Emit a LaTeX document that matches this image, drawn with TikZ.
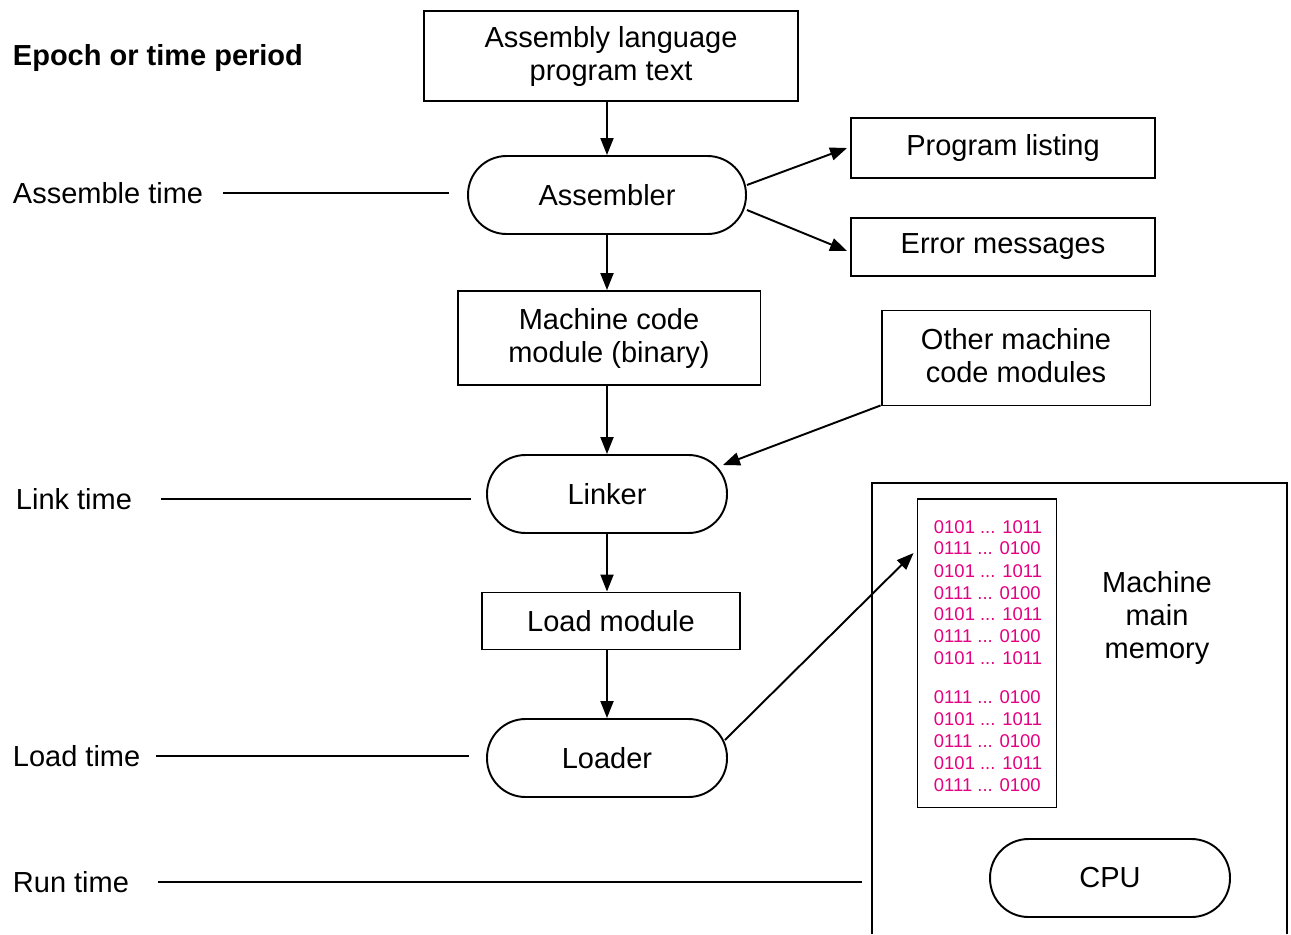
\documentclass[tikz,border=0pt]{standalone}
\usepackage{fontspec}
\setmainfont{Liberation Sans}
\usetikzlibrary{arrows.meta}
\definecolor{bitpink}{RGB}{228,0,128}

\begin{document}
\begin{tikzpicture}[x=0.02cm, y=-0.02cm, line width=1.1pt, >={Triangle[length=3.4mm,width=2.6mm]},
	every node/.style={font=\fontsize{16.5}{18.5}\selectfont},
	block/.style={draw, align=center, inner sep=0pt},
	pill/.style={draw, rounded corners=0.77cm, minimum width=4.8cm, minimum height=1.56cm},
	period/.style={anchor=west, inner sep=0pt},
	bits/.style={anchor=west, inner sep=0pt, text=bitpink, font=\fontsize{10.5}{12}\selectfont}]
	\useasboundingbox (0,0) rectangle (1291,934);
	\node[period, font=\fontsize{16.5}{19}\selectfont\bfseries] (epoch) at (12,58) {Epoch or time period};
	\node[block, minimum width=7.48cm, minimum height=1.8cm, text depth=0.1cm] (src) at (611,56) {Assembly language\\program text};
	\node[pill, minimum width=5.56cm] (asm) at (607,195) {Assembler};
	\node[block, minimum width=6.08cm, minimum height=1.2cm] (listing) at (1003,148) {Program listing};
	\node[block, minimum width=6.08cm, minimum height=1.16cm] (errors) at (1003,247) {Error messages};
	\node[block, minimum width=6.06cm, minimum height=1.88cm, text depth=0.1cm] (mcode) at (609,338) {Machine code\\module (binary)};
	\node[block, minimum width=5.38cm, minimum height=1.9cm, text depth=0.1cm] (other) at (1016,358) {Other machine\\code modules};
	\node[pill] (linker) at (607,494) {Linker};
	\node[block, minimum width=5.16cm, minimum height=1.14cm] (loadmod) at (611,621) {Load module};
	\node[pill] (loader) at (607,758) {Loader};
	\node[period] (tasm) at (12,193) {Assemble time};
	\node[period] (tlink) at (15,499) {Link time};
	\node[period] (tload) at (12,756) {Load time};
	\node[period] (trun) at (12,882) {Run time};
	\draw (872,934) -- (872,483) -- (1287,483) -- (1287,934);
	\coordinate (sys) at (872,483);
	\node[block, minimum width=2.78cm, minimum height=6.18cm] (mem) at (987,653) {};
	\foreach \y/\a/\b in {527/0101/1011, 548/0111/0100, 571/0101/1011, 593/0111/0100, 614/0101/1011, 636/0111/0100, 658/0101/1011, 697/0111/0100, 719/0101/1011, 741/0111/0100, 763/0101/1011, 785/0111/0100} {
		\node[bits] (b\y) at (933,\y) {\a{} ... \b};
	}
	\node[align=center, font=\fontsize{16.5}{19}\selectfont] (memlbl) at (1157,618) {Machine\\main\\memory};
	\node[pill] (cpu) at (1110,878) {CPU};
	\draw[->] (src.south -| asm.north) -- (asm.north);
	\draw[->] ([yshift=0.2cm]asm.east) -- ([xshift=-0.06cm]listing.west);
	\draw[->] ([yshift=-0.3cm]asm.east) -- ([xshift=-0.06cm,yshift=-0.08cm]errors.west);
	\draw[->] (asm.south) -- (asm.south |- mcode.north);
	\draw[->] (mcode.south -| linker.north) -- (linker.north);
	\draw[->] ([yshift=0.02cm]other.south west) -- ([xshift=-0.1cm,yshift=0.58cm]linker.east);
	\draw[->] (linker.south) -- (linker.south |- loadmod.north);
	\draw[->] (loadmod.south -| loader.north) -- (loader.north);
	\draw[->] ([xshift=-0.06cm,yshift=0.36cm]loader.east) -- ([xshift=-0.06cm,yshift=2cm]mem.west);
	\draw[shorten <=0.38cm, shorten >=0.36cm] (tasm.east) -- (tasm.east -| asm.west);
	\draw[shorten <=0.56cm, shorten >=0.3cm] (tlink.east) -- (tlink.east -| linker.west);
	\draw[shorten <=0.3cm, shorten >=0.34cm] (tload.east) -- (tload.east -| loader.west);
	\draw[shorten <=0.56cm, shorten >=0.2cm] (trun.east) -- (trun.east -| sys);
\end{tikzpicture}
\end{document}
